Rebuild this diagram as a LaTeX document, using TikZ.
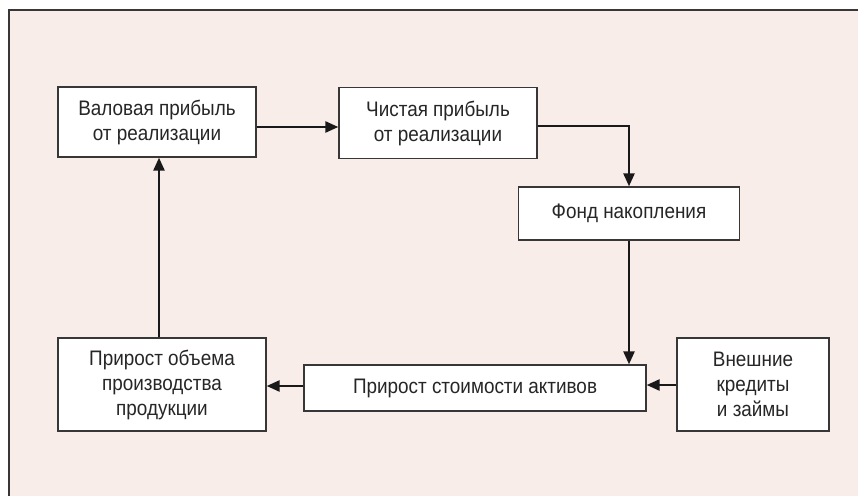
\documentclass[tikz,border=0pt]{standalone}
\usepackage{fontspec}
\setmainfont{Liberation Sans}[FakeStretch=0.9]
\usetikzlibrary{arrows.meta}
\definecolor{bgpink}{RGB}{249,237,233}
\definecolor{frameg}{RGB}{55,55,55}
\begin{document}
\begin{tikzpicture}[x=1pt,y=-1pt,
  box/.style={draw=frameg, line width=1.3pt, fill=white, align=center, inner sep=0pt,
    font=\fontsize{21}{25}\selectfont, text=black!85},
  link/.style={line width=2.5pt, draw=black!90, -{Triangle[length=13pt,width=11pt]}}]
\useasboundingbox (0,0) rectangle (858,495);
\draw[frameg, line width=1.5pt, fill=bgpink] (9,10) rectangle (875,515);
\node[box, minimum width=198pt, minimum height=70pt] (val) at (157,122) {Валовая прибыль\\от реализации};
\node[box, minimum width=198pt, minimum height=71pt] (chi) at (438,123) {Чистая прибыль\\от реализации};
\node[box, minimum width=221pt, minimum height=53pt] (fond) at (629,213.5) {Фонд накопления};
\node[box, minimum width=342pt, minimum height=46pt] (akt) at (475,388) {Прирост стоимости активов};
\node[box, minimum width=152pt, minimum height=93pt] (ext) at (753,384.5) {Внешние\\кредиты\\и займы};
\node[box, minimum width=208pt, minimum height=93pt] (obj) at (162,384.5) {Прирост объема\\производства\\продукции};
\draw[link] (val.east |- 0,127) -- (chi.west |- 0,127);
\draw[link] (chi.east |- 0,126) -| (fond.north);
\draw[link] (fond.south) -- (fond.south |- akt.north);
\draw[link] (ext.west |- 0,385) -- (akt.east |- 0,385);
\draw[link] (akt.west |- 0,386) -- (obj.east |- 0,386);
\draw[link] (obj.north -| 159,0) -- (val.south -| 159,0);
\end{tikzpicture}
\end{document}
